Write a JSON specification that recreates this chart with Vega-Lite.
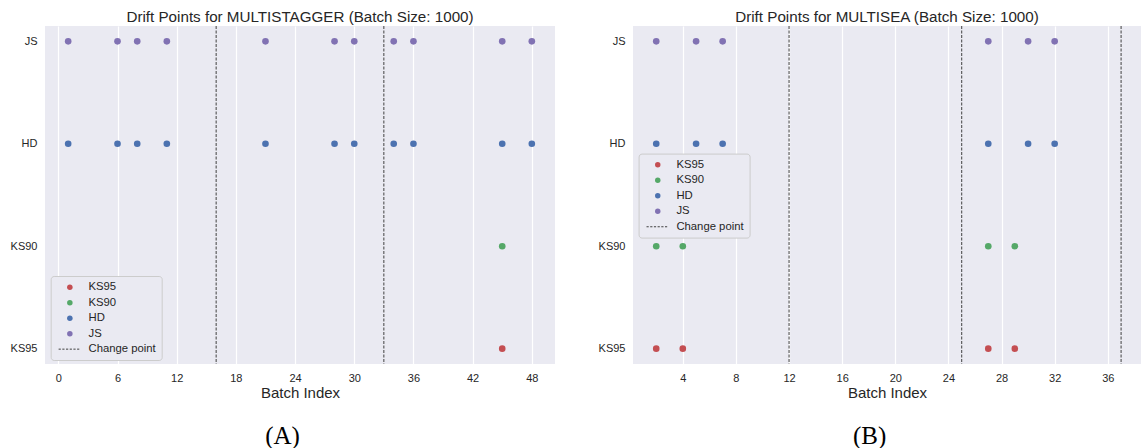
{
  "$schema": "https://vega.github.io/schema/vega-lite/v6.json",
  "padding": {"left": 10, "top": 10, "right": 0, "bottom": 0},
  "background": "#FFFFFF",
  "spacing": 43,
  "resolve": {
    "scale": {"x": "independent", "y": "independent", "color": "independent", "shape": "independent"},
    "legend": {"color": "independent", "shape": "independent"}
  },
  "hconcat": [
    {
      "title": {"text": "(A)", "orient": "bottom", "anchor": "middle", "font": "Liberation Serif", "fontSize": 25, "fontWeight": "normal", "color": "#000000", "baseline": "alphabetic", "offset": 43},
      "resolve": {
        "scale": {"x": "independent", "y": "independent", "color": "independent", "shape": "independent"},
        "legend": {"color": "independent", "shape": "independent"}
      },
      "vconcat": [
        {
          "title": {"text": "Drift Points for MULTISTAGGER (Batch Size: 1000)", "frame": "group", "anchor": "middle", "baseline": "alphabetic", "offset": -11.8},
          "width": 510,
          "height": 338,
          "layer": [
            {
              "data": {"values": [{"batch": 16}, {"batch": 33}]},
              "mark": {"type": "rule", "color": "#404040", "strokeWidth": 1, "strokeDash": [3, 1.5]},
              "encoding": {
                "x": {"field": "batch", "type": "quantitative", "scale": {"domain": [-1.35, 50.35], "nice": false, "zero": false},
                  "axis": {"title": "Batch Index", "values": [0, 6, 12, 18, 24, 30, 36, 42, 48], "labelPadding": 8, "titlePadding": 2.5, "labelFlush": false}}
              }
            },
            {
              "data": {"values": [
                {"metric": "JS", "batch": 1}, {"metric": "JS", "batch": 6}, {"metric": "JS", "batch": 8}, {"metric": "JS", "batch": 11},
                {"metric": "JS", "batch": 21}, {"metric": "JS", "batch": 28}, {"metric": "JS", "batch": 30}, {"metric": "JS", "batch": 34},
                {"metric": "JS", "batch": 36}, {"metric": "JS", "batch": 45}, {"metric": "JS", "batch": 48},
                {"metric": "HD", "batch": 1}, {"metric": "HD", "batch": 6}, {"metric": "HD", "batch": 8}, {"metric": "HD", "batch": 11},
                {"metric": "HD", "batch": 21}, {"metric": "HD", "batch": 28}, {"metric": "HD", "batch": 30}, {"metric": "HD", "batch": 34},
                {"metric": "HD", "batch": 36}, {"metric": "HD", "batch": 45}, {"metric": "HD", "batch": 48},
                {"metric": "KS90", "batch": 45},
                {"metric": "KS95", "batch": 45}
              ]},
              "mark": {"type": "point", "filled": true, "size": 44, "opacity": 1},
              "encoding": {
                "x": {"field": "batch", "type": "quantitative"},
                "y": {"field": "metric", "type": "nominal", "scale": {"type": "point", "domain": ["JS", "HD", "KS90", "KS95"], "padding": 0.15}, "axis": {"title": null, "labelPadding": 8}},
                "color": {"field": "metric", "type": "nominal",
                  "scale": {"domain": ["KS95", "KS90", "HD", "JS", "Change point"], "range": ["#C44E52", "#55A868", "#4C72B0", "#8172B3", "#404040"]},
                  "legend": {"title": null, "orient": "none", "legendX": 5.7, "legendY": 250,
                    "encode": {"symbols": {"update": {"stroke": {"signal": "datum.value === 'Change point' ? '#404040' : 'transparent'"}, "strokeWidth": {"value": 1}}}}}},
                "shape": {"field": "metric", "type": "nominal",
                  "scale": {"domain": ["KS95", "KS90", "HD", "JS", "Change point"], "range": ["circle", "circle", "circle", "circle", "M-4.1,0H-3.3M-2.75,0H-1.95M-1.4,0H-0.6M-0.05,0H0.75M1.3,0H2.1M2.65,0H3.45"]},
                  "legend": {"title": null, "orient": "none", "legendX": 5.7, "legendY": 250,
                    "encode": {"symbols": {"update": {"stroke": {"signal": "datum.value === 'Change point' ? '#404040' : 'transparent'"}, "strokeWidth": {"value": 1}}}}}}
              }
            }
          ]
        }
      ]
    },
    {
      "title": {"text": "(B)", "orient": "bottom", "anchor": "middle", "font": "Liberation Serif", "fontSize": 25, "fontWeight": "normal", "color": "#000000", "baseline": "alphabetic", "offset": 43},
      "resolve": {
        "scale": {"x": "independent", "y": "independent", "color": "independent", "shape": "independent"},
        "legend": {"color": "independent", "shape": "independent"}
      },
      "vconcat": [
        {
          "title": {"text": "Drift Points for MULTISEA (Batch Size: 1000)", "frame": "group", "anchor": "middle", "baseline": "alphabetic", "offset": -11.8},
          "width": 508,
          "height": 338,
          "layer": [
            {
              "data": {"values": [{"batch": 12}, {"batch": 25}, {"batch": 37}]},
              "mark": {"type": "rule", "color": "#404040", "strokeWidth": 1, "strokeDash": [3, 1.5]},
              "encoding": {
                "x": {"field": "batch", "type": "quantitative", "scale": {"domain": [0.25, 38.5], "nice": false, "zero": false},
                  "axis": {"title": "Batch Index", "values": [4, 8, 12, 16, 20, 24, 28, 32, 36], "labelPadding": 8, "titlePadding": 2.5, "labelFlush": false}}
              }
            },
            {
              "data": {"values": [
                {"metric": "JS", "batch": 2}, {"metric": "JS", "batch": 5}, {"metric": "JS", "batch": 7},
                {"metric": "JS", "batch": 27}, {"metric": "JS", "batch": 30}, {"metric": "JS", "batch": 32},
                {"metric": "HD", "batch": 2}, {"metric": "HD", "batch": 5}, {"metric": "HD", "batch": 7},
                {"metric": "HD", "batch": 27}, {"metric": "HD", "batch": 30}, {"metric": "HD", "batch": 32},
                {"metric": "KS90", "batch": 2}, {"metric": "KS90", "batch": 4}, {"metric": "KS90", "batch": 27}, {"metric": "KS90", "batch": 29},
                {"metric": "KS95", "batch": 2}, {"metric": "KS95", "batch": 4}, {"metric": "KS95", "batch": 27}, {"metric": "KS95", "batch": 29}
              ]},
              "mark": {"type": "point", "filled": true, "size": 44, "opacity": 1},
              "encoding": {
                "x": {"field": "batch", "type": "quantitative"},
                "y": {"field": "metric", "type": "nominal", "scale": {"type": "point", "domain": ["JS", "HD", "KS90", "KS95"], "padding": 0.15}, "axis": {"title": null, "labelPadding": 8}},
                "color": {"field": "metric", "type": "nominal",
                  "scale": {"domain": ["KS95", "KS90", "HD", "JS", "Change point"], "range": ["#C44E52", "#55A868", "#4C72B0", "#8172B3", "#404040"]},
                  "legend": {"title": null, "orient": "none", "legendX": 5.6, "legendY": 127.6,
                    "encode": {"symbols": {"update": {"stroke": {"signal": "datum.value === 'Change point' ? '#404040' : 'transparent'"}, "strokeWidth": {"value": 1}}}}}},
                "shape": {"field": "metric", "type": "nominal",
                  "scale": {"domain": ["KS95", "KS90", "HD", "JS", "Change point"], "range": ["circle", "circle", "circle", "circle", "M-4.1,0H-3.3M-2.75,0H-1.95M-1.4,0H-0.6M-0.05,0H0.75M1.3,0H2.1M2.65,0H3.45"]},
                  "legend": {"title": null, "orient": "none", "legendX": 5.6, "legendY": 127.6,
                    "encode": {"symbols": {"update": {"stroke": {"signal": "datum.value === 'Change point' ? '#404040' : 'transparent'"}, "strokeWidth": {"value": 1}}}}}}
              }
            }
          ]
        }
      ]
    }
  ],
  "config": {
    "view": {"fill": "#EAEAF2", "stroke": null},
    "axis": {"domain": false, "ticks": false, "gridColor": "#FFFFFF", "gridWidth": 1.2, "gridOpacity": 1,
      "labelFont": "Liberation Sans", "labelFontSize": 11, "labelColor": "#262626",
      "titleFont": "Liberation Sans", "titleFontSize": 15, "titleColor": "#262626", "titleFontWeight": "normal"},
    "title": {"font": "Liberation Sans", "fontSize": 15.2, "fontWeight": "normal", "color": "#262626"},
    "legend": {"labelFont": "Liberation Sans", "labelFontSize": 11.3, "labelColor": "#262626",
      "fillColor": "#EAEAF2", "strokeColor": "#CCCCCC", "cornerRadius": 3, "padding": 5.5, "rowPadding": 3.5,
      "symbolSize": 30, "symbolOffset": 8, "labelOffset": 13, "symbolStrokeWidth": 0,
      "symbolOpacity": 1}
  }
}
